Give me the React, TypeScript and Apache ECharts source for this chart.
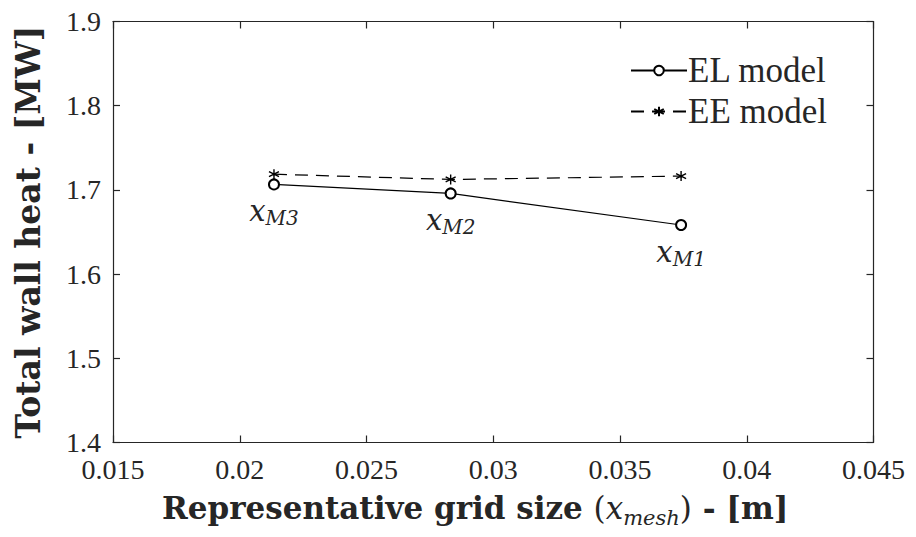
import React, { useEffect, useRef } from "react";
import * as echarts from "echarts";

const meshSize = [0.02135, 0.02832, 0.03741];
const elModel = [1.7065, 1.6958, 1.6583];
const eeModel = [1.7187, 1.7124, 1.7164];
const meshLabels = ["M3", "M2", "M1"];
const seriesNames = ["EL model", "EE model"];
const xTicks = { min: 0.015, max: 0.045, interval: 0.005 };
const yTicks = { min: 1.4, max: 1.9, interval: 0.1 };

const FONT = "'Liberation Serif', 'Times New Roman', serif";
const BFONT = "'DejaVu Serif', serif";
const AX = "#262626";
const STAR = "path://M0,-10L0,10M-8.66,-5L8.66,5M-8.66,5L8.66,-5";

export default function App() {
  const ref = useRef<HTMLDivElement>(null);
  useEffect(() => {
    if (!ref.current) return;
    const chart = echarts.init(ref.current, null, { renderer: "svg" });
    const common = {
      type: "value" as const,
      splitLine: { show: false },
      axisLine: { show: true, onZero: false, lineStyle: { color: AX, width: 1.2 } },
      axisTick: { show: true, inside: true, length: 7, lineStyle: { color: AX, width: 1.2 } },
    };
    const baseX = { ...common, min: xTicks.min, max: xTicks.max, interval: xTicks.interval };
    const baseY = { ...common, min: yTicks.min, max: yTicks.max, interval: yTicks.interval };
    chart.setOption({
      animation: false,
      backgroundColor: "#ffffff",
      grid: { left: 113, right: 42.5, top: 21.5, bottom: 94.5, containLabel: false },
      legend: {
        orient: "vertical",
        right: 84,
        top: 48,
        itemWidth: 56,
        itemHeight: 12,
        itemGap: 6,
        data: seriesNames,
        textStyle: { fontFamily: FONT, fontSize: 35, lineHeight: 34, color: AX, padding: [0, 0, 0, -4] },
      },
      xAxis: [
        {
          ...baseX,
          position: "bottom",
          axisLabel: {
            fontFamily: FONT,
            fontSize: 28,
            lineHeight: 24,
            color: AX,
            margin: 15,
            formatter: (v: number) => String(parseFloat(v.toFixed(3))),
          },
          name: "{b|Representative grid size }{p|(}{xi|x}{xs|mesh}{p|)}{b| - [m]}",
          nameLocation: "middle",
          nameGap: 50,
          nameTextStyle: {
            padding: [0, 36, 0, 0],
            rich: {
              b: { fontFamily: BFONT, fontWeight: "bold", fontSize: 31, color: AX, verticalAlign: "top", lineHeight: 36 },
              p: { fontFamily: BFONT, fontSize: 31, color: AX, verticalAlign: "top", lineHeight: 36 },
              xi: { fontFamily: BFONT, fontStyle: "italic", fontSize: 31, color: AX, verticalAlign: "top", lineHeight: 36 },
              xs: { fontFamily: BFONT, fontStyle: "italic", fontSize: 21, color: AX, verticalAlign: "bottom", lineHeight: 22 },
            },
          },
        },
        { ...baseX, position: "top", axisLabel: { show: false } },
      ],
      yAxis: [
        {
          ...baseY,
          position: "left",
          axisLabel: {
            fontFamily: FONT,
            fontSize: 28,
            lineHeight: 24,
            color: AX,
            margin: 12,
            formatter: (v: number) => v.toFixed(1),
          },
          name: "Total wall heat - [MW]",
          nameLocation: "middle",
          nameGap: 68,
          nameTextStyle: { fontFamily: BFONT, fontWeight: "bold", fontSize: 33, color: AX },
        },
        { ...baseY, position: "right", axisLabel: { show: false } },
      ],
      series: [
        {
          name: seriesNames[0],
          type: "line",
          data: meshSize.map((x, i) => [x, elModel[i]]),
          symbol: "emptyCircle",
          symbolSize: 10,
          lineStyle: { color: "#000", width: 1.2, type: "solid" },
          itemStyle: { color: "#000", borderColor: "#000", borderWidth: 1.2 },
          label: {
            show: true,
            position: "bottom",
            distance: 6,
            formatter: (p: any) => `{x|x}{s|${meshLabels[p.dataIndex]}}`,
            rich: {
              x: { fontFamily: BFONT, fontStyle: "italic", fontSize: 29, color: AX, verticalAlign: "top", lineHeight: 32 },
              s: { fontFamily: BFONT, fontStyle: "italic", fontSize: 20, color: AX, verticalAlign: "bottom", lineHeight: 18 },
            },
          },
          z: 3,
        },
        {
          name: seriesNames[1],
          type: "line",
          data: meshSize.map((x, i) => [x, eeModel[i]]),
          symbol: STAR,
          symbolSize: 10,
          lineStyle: { color: "#000", width: 1.2, type: [13, 8] },
          itemStyle: { color: "#000", borderColor: "#000", borderWidth: 1.4 },
          z: 2,
        },
      ],
    });
    return () => chart.dispose();
  }, []);
  return <div ref={ref} style={{ width: 916, height: 537, position: "absolute", left: 0, top: 0 }} />;
}
